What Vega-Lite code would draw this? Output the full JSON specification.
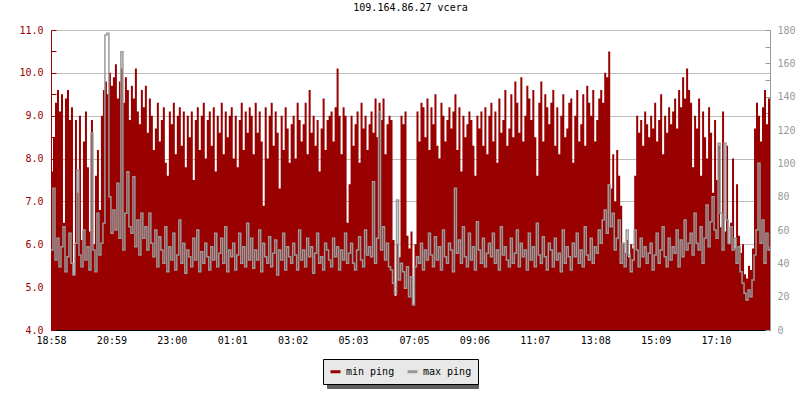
{
"$schema":"https://vega.github.io/schema/vega-lite/v6.json",
"width":719,"height":300,
"autosize":{"type":"none"},
"padding":{"left":51,"top":30,"right":30,"bottom":70},
"background":"white",
"title":{"text":"109.164.86.27 vcera","font":"DejaVu Sans Mono","fontSize":10,"fontWeight":"normal","color":"black","offset":12,"anchor":"middle","frame":"group"},
"config":{"view":{"stroke":null},"axis":{"labelFont":"DejaVu Sans Mono","labelFontSize":10}},
"data":{"values":[
{"t":0,"min":7.7,"max":48},{"t":4,"min":8.5,"max":85},{"t":8,"min":9.3,"max":42},{"t":12,"min":9.6,"max":55},{"t":16,"min":9.1,"max":38},{"t":20,"min":9.5,"max":50},{"t":24,"min":6.5,"max":62},{"t":28,"min":9.4,"max":35},{"t":32,"min":9.6,"max":44},{"t":36,"min":8.9,"max":58},
{"t":40,"min":9.2,"max":40},{"t":44,"min":5.3,"max":33},{"t":48,"min":8.9,"max":52},{"t":52,"min":7.2,"max":96},{"t":56,"min":9.0,"max":45},{"t":60,"min":6.1,"max":38},{"t":64,"min":8.4,"max":60},{"t":68,"min":9.1,"max":42},{"t":72,"min":7.8,"max":50},{"t":76,"min":6.3,"max":36},
{"t":80,"min":8.9,"max":118},{"t":84,"min":6.0,"max":48},{"t":88,"min":7.6,"max":35},{"t":92,"min":8.2,"max":70},{"t":96,"min":6.8,"max":45},{"t":100,"min":9.0,"max":52},{"t":104,"min":9.6,"max":64},{"t":108,"min":9.8,"max":177},{"t":112,"min":9.5,"max":178},{"t":116,"min":10.0,"max":80},
{"t":120,"min":9.7,"max":58},{"t":124,"min":9.9,"max":72},{"t":128,"min":10.2,"max":60},{"t":132,"min":9.4,"max":88},{"t":136,"min":9.8,"max":55},{"t":140,"min":10.1,"max":167},{"t":144,"min":9.3,"max":48},{"t":148,"min":9.9,"max":70},{"t":152,"min":9.6,"max":95},{"t":156,"min":8.9,"max":62},
{"t":160,"min":9.7,"max":58},{"t":164,"min":9.4,"max":92},{"t":168,"min":10.1,"max":50},{"t":172,"min":9.1,"max":66},{"t":176,"min":8.8,"max":45},{"t":180,"min":9.6,"max":70},{"t":184,"min":9.2,"max":55},{"t":188,"min":9.7,"max":62},{"t":192,"min":8.6,"max":48},{"t":196,"min":9.4,"max":70},
{"t":200,"min":9.0,"max":52},{"t":204,"min":8.2,"max":44},{"t":208,"min":8.7,"max":60},{"t":212,"min":9.3,"max":38},{"t":216,"min":8.4,"max":56},{"t":220,"min":8.9,"max":48},{"t":224,"min":9.2,"max":40},{"t":228,"min":7.9,"max":62},{"t":232,"min":7.6,"max":35},{"t":236,"min":9.1,"max":50},
{"t":240,"min":8.8,"max":42},{"t":244,"min":9.3,"max":58},{"t":248,"min":8.1,"max":36},{"t":252,"min":9.0,"max":45},{"t":256,"min":9.2,"max":66},{"t":260,"min":8.3,"max":40},{"t":264,"min":9.1,"max":52},{"t":268,"min":7.8,"max":34},{"t":272,"min":9.0,"max":48},{"t":276,"min":8.5,"max":44},
{"t":280,"min":9.1,"max":38},{"t":284,"min":7.5,"max":55},{"t":288,"min":8.9,"max":42},{"t":292,"min":9.2,"max":60},{"t":296,"min":8.2,"max":35},{"t":300,"min":9.0,"max":47},{"t":304,"min":9.3,"max":40},{"t":308,"min":8.0,"max":52},{"t":312,"min":8.9,"max":44},{"t":316,"min":9.1,"max":36},
{"t":320,"min":8.3,"max":50},{"t":324,"min":9.2,"max":42},{"t":328,"min":7.7,"max":58},{"t":332,"min":9.0,"max":38},{"t":336,"min":8.6,"max":46},{"t":340,"min":9.3,"max":55},{"t":344,"min":8.1,"max":40},{"t":348,"min":9.1,"max":62},{"t":352,"min":8.5,"max":35},{"t":356,"min":9.0,"max":48},
{"t":360,"min":9.2,"max":44},{"t":364,"min":8.0,"max":52},{"t":368,"min":9.0,"max":36},{"t":372,"min":7.8,"max":45},{"t":376,"min":8.9,"max":58},{"t":380,"min":9.3,"max":40},{"t":384,"min":8.2,"max":50},{"t":388,"min":9.1,"max":38},{"t":392,"min":8.6,"max":64},{"t":396,"min":9.2,"max":42},
{"t":400,"min":9.0,"max":55},{"t":404,"min":8.1,"max":37},{"t":408,"min":9.3,"max":48},{"t":412,"min":8.6,"max":42},{"t":416,"min":9.1,"max":60},{"t":420,"min":8.4,"max":35},{"t":424,"min":6.9,"max":52},{"t":428,"min":9.2,"max":44},{"t":432,"min":8.0,"max":40},{"t":436,"min":9.0,"max":56},
{"t":440,"min":9.3,"max":38},{"t":444,"min":8.3,"max":46},{"t":448,"min":9.1,"max":54},{"t":452,"min":8.6,"max":33},{"t":456,"min":7.3,"max":48},{"t":460,"min":9.0,"max":42},{"t":464,"min":8.2,"max":58},{"t":468,"min":9.2,"max":36},{"t":472,"min":8.7,"max":50},{"t":476,"min":7.9,"max":44},
{"t":480,"min":8.8,"max":40},{"t":484,"min":9.0,"max":52},{"t":488,"min":8.0,"max":45},{"t":492,"min":9.3,"max":36},{"t":496,"min":8.9,"max":60},{"t":500,"min":8.4,"max":42},{"t":504,"min":8.8,"max":48},{"t":508,"min":9.3,"max":38},{"t":512,"min":8.1,"max":55},{"t":516,"min":9.6,"max":44},
{"t":520,"min":8.6,"max":50},{"t":524,"min":9.0,"max":34},{"t":528,"min":8.3,"max":46},{"t":532,"min":8.9,"max":58},{"t":536,"min":7.7,"max":40},{"t":540,"min":8.7,"max":44},{"t":544,"min":9.4,"max":36},{"t":548,"min":8.2,"max":52},{"t":552,"min":8.9,"max":48},{"t":556,"min":9.0,"max":42},
{"t":560,"min":9.1,"max":38},{"t":564,"min":8.4,"max":55},{"t":568,"min":9.2,"max":44},{"t":572,"min":10.1,"max":50},{"t":576,"min":9.0,"max":36},{"t":580,"min":8.1,"max":48},{"t":584,"min":9.2,"max":42},{"t":588,"min":9.0,"max":58},{"t":592,"min":6.5,"max":40},{"t":596,"min":7.4,"max":46},
{"t":600,"min":9.0,"max":52},{"t":604,"min":8.3,"max":40},{"t":608,"min":8.8,"max":36},{"t":612,"min":9.1,"max":48},{"t":616,"min":7.9,"max":56},{"t":620,"min":9.3,"max":42},{"t":624,"min":8.7,"max":38},{"t":628,"min":9.0,"max":60},{"t":632,"min":8.2,"max":45},{"t":636,"min":8.8,"max":50},
{"t":640,"min":9.1,"max":44},{"t":644,"min":8.6,"max":89},{"t":648,"min":9.4,"max":40},{"t":652,"min":8.5,"max":55},{"t":656,"min":9.3,"max":131},{"t":660,"min":8.9,"max":48},{"t":664,"min":9.4,"max":62},{"t":668,"min":8.1,"max":42},{"t":672,"min":8.8,"max":52},{"t":676,"min":9.0,"max":38},
{"t":680,"min":8.9,"max":36},{"t":684,"min":6.1,"max":28},{"t":688,"min":4.8,"max":22},{"t":692,"min":6.0,"max":78},{"t":696,"min":5.7,"max":30},{"t":700,"min":9.0,"max":40},{"t":704,"min":8.8,"max":35},{"t":708,"min":9.1,"max":25},{"t":712,"min":6.2,"max":38},{"t":716,"min":5.9,"max":20},
{"t":720,"min":6.3,"max":32},{"t":724,"min":4.6,"max":15},{"t":728,"min":6.0,"max":38},{"t":732,"min":9.1,"max":44},{"t":736,"min":8.4,"max":40},{"t":740,"min":9.3,"max":52},{"t":744,"min":9.2,"max":36},{"t":748,"min":8.5,"max":48},{"t":752,"min":9.4,"max":42},{"t":756,"min":8.2,"max":58},
{"t":760,"min":9.2,"max":45},{"t":764,"min":8.8,"max":38},{"t":768,"min":9.5,"max":56},{"t":772,"min":8.3,"max":42},{"t":776,"min":8.0,"max":50},{"t":780,"min":9.3,"max":36},{"t":784,"min":9.0,"max":60},{"t":788,"min":8.4,"max":44},{"t":792,"min":8.9,"max":40},{"t":796,"min":9.2,"max":52},
{"t":800,"min":8.7,"max":48},{"t":804,"min":9.1,"max":35},{"t":808,"min":9.5,"max":85},{"t":812,"min":8.2,"max":46},{"t":816,"min":9.2,"max":54},{"t":820,"min":7.7,"max":40},{"t":824,"min":9.0,"max":62},{"t":828,"min":8.5,"max":44},{"t":832,"min":8.8,"max":38},{"t":836,"min":9.1,"max":58},
{"t":840,"min":8.9,"max":42},{"t":844,"min":8.3,"max":50},{"t":848,"min":7.6,"max":36},{"t":852,"min":9.0,"max":65},{"t":856,"min":8.7,"max":48},{"t":860,"min":9.1,"max":40},{"t":864,"min":8.3,"max":55},{"t":868,"min":9.2,"max":38},{"t":872,"min":8.1,"max":46},{"t":876,"min":9.0,"max":52},
{"t":880,"min":9.3,"max":44},{"t":884,"min":8.4,"max":58},{"t":888,"min":9.1,"max":40},{"t":892,"min":7.9,"max":48},{"t":896,"min":9.4,"max":36},{"t":900,"min":8.6,"max":62},{"t":904,"min":8.9,"max":45},{"t":908,"min":9.6,"max":50},{"t":912,"min":8.3,"max":42},{"t":916,"min":8.7,"max":38},
{"t":920,"min":9.5,"max":55},{"t":924,"min":8.5,"max":40},{"t":928,"min":9.8,"max":46},{"t":932,"min":9.3,"max":60},{"t":936,"min":8.6,"max":38},{"t":940,"min":9.9,"max":52},{"t":944,"min":8.4,"max":44},{"t":948,"min":9.0,"max":48},{"t":952,"min":9.7,"max":36},{"t":956,"min":9.4,"max":58},
{"t":960,"min":8.9,"max":42},{"t":964,"min":9.6,"max":50},{"t":968,"min":8.5,"max":38},{"t":972,"min":7.6,"max":64},{"t":976,"min":9.3,"max":45},{"t":980,"min":9.8,"max":40},{"t":984,"min":8.4,"max":56},{"t":988,"min":9.5,"max":44},{"t":992,"min":9.2,"max":36},{"t":996,"min":8.8,"max":52},
{"t":1000,"min":9.3,"max":48},{"t":1004,"min":9.6,"max":38},{"t":1008,"min":8.3,"max":55},{"t":1012,"min":9.2,"max":42},{"t":1016,"min":8.1,"max":46},{"t":1020,"min":9.0,"max":35},{"t":1024,"min":9.5,"max":60},{"t":1028,"min":8.5,"max":40},{"t":1032,"min":8.7,"max":50},{"t":1036,"min":9.3,"max":44},
{"t":1040,"min":9.4,"max":36},{"t":1044,"min":7.9,"max":52},{"t":1048,"min":9.0,"max":44},{"t":1052,"min":9.6,"max":58},{"t":1056,"min":8.4,"max":40},{"t":1060,"min":8.8,"max":48},{"t":1064,"min":9.5,"max":38},{"t":1068,"min":8.3,"max":62},{"t":1072,"min":9.7,"max":45},{"t":1076,"min":9.3,"max":42},
{"t":1080,"min":9.0,"max":55},{"t":1084,"min":9.6,"max":40},{"t":1088,"min":8.4,"max":50},{"t":1092,"min":8.9,"max":46},{"t":1096,"min":9.4,"max":60},{"t":1100,"min":9.6,"max":52},{"t":1104,"min":9.3,"max":66},{"t":1108,"min":10.0,"max":72},{"t":1112,"min":9.9,"max":58},{"t":1116,"min":10.5,"max":87},
{"t":1120,"min":7.3,"max":62},{"t":1124,"min":8.1,"max":70},{"t":1128,"min":7.0,"max":48},{"t":1132,"min":8.2,"max":55},{"t":1136,"min":7.6,"max":66},{"t":1140,"min":6.9,"max":40},{"t":1144,"min":6.0,"max":52},{"t":1148,"min":5.8,"max":38},{"t":1152,"min":6.1,"max":60},{"t":1156,"min":5.7,"max":45},
{"t":1160,"min":6.0,"max":35},{"t":1164,"min":5.9,"max":42},{"t":1168,"min":7.6,"max":60},{"t":1172,"min":9.0,"max":48},{"t":1176,"min":8.6,"max":38},{"t":1180,"min":8.9,"max":55},{"t":1184,"min":8.3,"max":44},{"t":1188,"min":9.1,"max":50},{"t":1192,"min":8.8,"max":40},{"t":1196,"min":8.5,"max":46},
{"t":1200,"min":9.0,"max":52},{"t":1204,"min":8.7,"max":36},{"t":1208,"min":9.3,"max":45},{"t":1212,"min":8.4,"max":58},{"t":1216,"min":8.9,"max":40},{"t":1220,"min":9.5,"max":48},{"t":1224,"min":8.1,"max":62},{"t":1228,"min":9.0,"max":44},{"t":1232,"min":8.6,"max":38},{"t":1236,"min":9.2,"max":55},
{"t":1240,"min":8.8,"max":42},{"t":1244,"min":9.1,"max":50},{"t":1248,"min":9.4,"max":46},{"t":1252,"min":8.7,"max":60},{"t":1256,"min":9.6,"max":38},{"t":1260,"min":9.2,"max":54},{"t":1264,"min":9.9,"max":44},{"t":1268,"min":9.4,"max":66},{"t":1272,"min":10.1,"max":48},{"t":1276,"min":9.6,"max":52},
{"t":1280,"min":9.3,"max":58},{"t":1284,"min":7.8,"max":45},{"t":1288,"min":9.0,"max":70},{"t":1292,"min":8.7,"max":52},{"t":1296,"min":9.4,"max":48},{"t":1300,"min":7.6,"max":62},{"t":1304,"min":9.1,"max":40},{"t":1308,"min":8.5,"max":55},{"t":1312,"min":8.0,"max":75},{"t":1316,"min":9.2,"max":50},
{"t":1320,"min":8.6,"max":65},{"t":1324,"min":7.2,"max":80},{"t":1328,"min":8.9,"max":60},{"t":1332,"min":7.5,"max":55},{"t":1336,"min":8.3,"max":112},{"t":1340,"min":6.4,"max":70},{"t":1344,"min":9.1,"max":48},{"t":1348,"min":6.3,"max":112},{"t":1352,"min":8.3,"max":66},{"t":1356,"min":6.0,"max":52},
{"t":1360,"min":6.5,"max":62},{"t":1364,"min":8.0,"max":48},{"t":1368,"min":5.9,"max":55},{"t":1372,"min":7.4,"max":40},{"t":1376,"min":6.2,"max":50},{"t":1380,"min":5.8,"max":35},{"t":1384,"min":6.0,"max":28},{"t":1388,"min":5.3,"max":22},{"t":1392,"min":5.2,"max":18},{"t":1396,"min":5.5,"max":24},
{"t":1400,"min":5.4,"max":20},{"t":1404,"min":5.9,"max":30},{"t":1408,"min":8.7,"max":45},{"t":1412,"min":9.3,"max":60},{"t":1416,"min":9.0,"max":100},{"t":1420,"min":8.4,"max":52},{"t":1424,"min":9.2,"max":66},{"t":1428,"min":9.6,"max":40},{"t":1432,"min":8.8,"max":58},{"t":1436,"min":9.4,"max":48},{"t":1440,"min":9.1,"max":50}
]},
"encoding":{
"x":{"field":"t","type":"quantitative","scale":{"domain":[0,1440],"nice":false,"zero":false},
"axis":{"title":null,"values":[0,121,242,363,484,605,727,848,969,1090,1211,1332],"labelExpr":"timeFormat(datetime(2021,0,10,18,58+datum.value),'%H:%M')","domainColor":"black","tickColor":"black","tickSize":-5,"labelPadding":10,"labelColor":"black","grid":false,"labelFlush":false}}
},
"layer":[
{"mark":{"type":"area","interpolate":"step-after","clip":true},
"encoding":{
"y":{"field":"min","type":"quantitative","scale":{"domain":[4,11],"nice":false,"zero":false},
"axis":{"orient":"left","title":null,"values":[4,4.5,5,5.5,6,6.5,7,7.5,8,8.5,9,9.5,10,10.5,11],"labelExpr":"datum.value % 1 === 0 ? format(datum.value, '.1f') : ''","labelColor":"#990000","domainColor":"#990000","tickColor":"#990000","tickSize":-5,"labelPadding":13,"grid":true,"gridColor":"#bbbbbb","gridOpacity":{"condition":{"test":"datum.value % 1 === 0","value":1},"value":0}}},
"color":{"datum":"min ping","type":"nominal","scale":{"domain":["min ping","max ping"],"range":["#990000","#999999"]},
"legend":{"orient":"none","legendX":272,"legendY":329,"zindex":2,"direction":"horizontal","title":null,"symbolType":"stroke","symbolSize":100,"symbolStrokeWidth":3,"labelFont":"DejaVu Sans Mono","labelFontSize":10,"labelColor":"black","fillColor":"#e8e8e8","strokeColor":"black","padding":6,"columnPadding":6,"labelOffset":4,
"encode":{"symbols":{"update":{"stroke":{"scale":"color","field":"value"}}}}}},
"opacity":{"datum":"min ping","type":"nominal","scale":{"domain":["min ping","max ping","shadow"],"range":[1,1,1]},
"legend":{"orient":"none","legendX":276,"legendY":333,"zindex":1,"direction":"horizontal","title":null,"values":["min ping","max ping"],"labelExpr":"''","symbolType":"stroke","symbolSize":100,"symbolStrokeWidth":3,"symbolStrokeColor":"#5f5f5f","labelFont":"DejaVu Sans Mono","labelFontSize":10,"labelColor":"#5f5f5f","fillColor":"#5f5f5f","strokeColor":"#5f5f5f","padding":6,"columnPadding":6,"labelOffset":51}}
}},
{"mark":{"type":"line","interpolate":"step-after","strokeWidth":1.5,"clip":true},
"encoding":{
"y":{"field":"max","type":"quantitative","scale":{"domain":[0,180],"nice":false,"zero":false},
"axis":{"orient":"right","title":null,"values":[0,10,20,30,40,50,60,70,80,90,100,110,120,130,140,150,160,170,180],"labelExpr":"datum.value % 20 === 0 ? datum.label : ''","labelColor":"#999999","domainColor":"#999999","tickColor":"#999999","tickSize":-5,"labelPadding":12,"grid":false}},
"color":{"datum":"max ping","type":"nominal"},
"opacity":{"datum":"max ping","type":"nominal"}
}}
],
"resolve":{"scale":{"y":"independent"}}
}
